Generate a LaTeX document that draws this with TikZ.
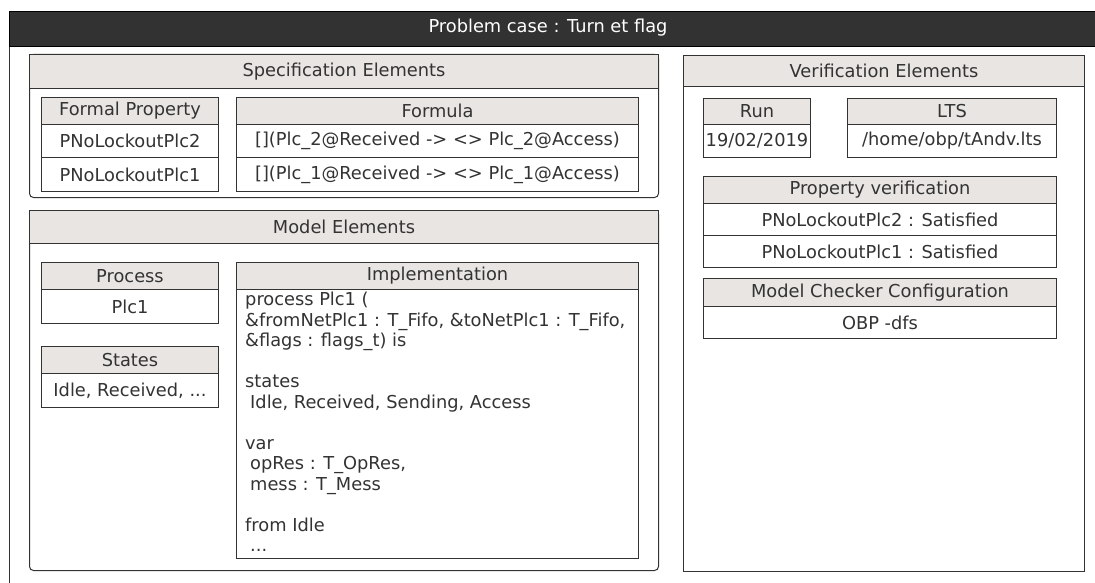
\documentclass[tikz,border=0pt]{standalone}
\usepackage{fontspec}
\setmainfont{DejaVu Sans}
\definecolor{ink}{HTML}{333333}
\definecolor{headfill}{HTML}{E8E5E3}
\definecolor{barfill}{HTML}{323232}
\tikzset{
  cell/.style={draw=ink, line width=1pt, fill=white, text=ink, inner sep=0pt,
    anchor=north west, font=\fontsize{17.8}{20.5}\selectfont},
  headcell/.style={cell, fill=headfill},
  panel/.style={cell, rounded corners=4pt},
}
\begin{document}
\begin{tikzpicture}[x=1pt,y=-1pt]
\useasboundingbox (0,0) rectangle (1095,583);

% outer frame with its dark title bar
\node[cell, fill=white, minimum width=1100, minimum height=600] (frame) at (8.5,11) {};
\node[cell, draw=black, fill=barfill, text=white, minimum width=1100, minimum height=35] (bar) at (8.5,11) {};
\node[text=white, font=\fontsize{17.8}{20}\selectfont] (title) at (548,28) {Problem case : Turn et flag};

% specification elements
\node[panel, minimum width=629, minimum height=143] (spec) at (29,54) {};
\node[headcell, minimum width=629, minimum height=34] (spechead) at (29,54) {Specification Elements};
\node[headcell, minimum width=177, minimum height=27] (fphead) at (41,97) {Formal Property};
\node[cell, minimum width=177, minimum height=33] (fp1) at (41,124) {PNoLockoutPlc2};
\node[cell, minimum width=177, minimum height=34] (fp2) at (41,157) {PNoLockoutPlc1};
\node[headcell, minimum width=402, minimum height=27] (fohead) at (236,97) {Formula};
\node[cell, minimum width=402, minimum height=33] (fo1) at (236,124) {[](Plc\_2@Received -> <> Plc\_2@Access)};
\node[cell, minimum width=402, minimum height=34] (fo2) at (236,157) {[](Plc\_1@Received -> <> Plc\_1@Access)};

% model elements
\node[panel, minimum width=629, minimum height=360] (model) at (29,210) {};
\node[headcell, minimum width=629, minimum height=33] (modelhead) at (29,210) {Model Elements};
\node[headcell, minimum width=177, minimum height=27] (prhead) at (41,262) {Process};
\node[cell, minimum width=177, minimum height=34] (pr1) at (41,289) {Plc1};
\node[headcell, minimum width=177, minimum height=27] (sthead) at (41,346) {States};
\node[cell, minimum width=177, minimum height=34] (st1) at (41,373) {Idle, Received, ...};
\node[headcell, minimum width=402, minimum height=27] (imhead) at (236,262) {Implementation};
\node[cell, minimum width=402, minimum height=269] (imbody) at (236,289) {};
\node[anchor=north west, align=left, inner sep=0pt, text=ink,
      font=\fontsize{17.8}{20.5}\selectfont] (imtext) at (245,292)
{process Plc1 (\\
\&fromNetPlc1 : T\_Fifo, \&toNetPlc1 : T\_Fifo,\\
\&flags : flags\_t) is\\[20.5pt]
states\\
\hspace*{5pt}Idle, Received, Sending, Access\\[20.5pt]
var\\
\hspace*{5pt}opRes : T\_OpRes,\\
\hspace*{5pt}mess : T\_Mess\\[20.5pt]
from Idle\\
\hspace*{5pt}...};

% verification elements
\node[cell, minimum width=401, minimum height=516] (ver) at (683,55) {};
\node[headcell, minimum width=401, minimum height=31] (verhead) at (683,55) {Verification Elements};
\node[headcell, minimum width=107, minimum height=26] (runhead) at (703,98) {Run};
\node[cell, minimum width=107, minimum height=33] (run1) at (703,124) {19/02/2019};
\node[headcell, minimum width=209, minimum height=26] (ltshead) at (847,98) {LTS};
\node[cell, minimum width=209, minimum height=33] (lts1) at (847,124) {/home/obp/tAndv.lts};
\node[headcell, minimum width=353, minimum height=27] (pvhead) at (703,176) {Property verification};
\node[cell, minimum width=353, minimum height=32] (pv1) at (703,203) {PNoLockoutPlc2 : Satisfied};
\node[cell, minimum width=353, minimum height=32] (pv2) at (703,235) {PNoLockoutPlc1 : Satisfied};
\node[headcell, minimum width=353, minimum height=28] (mchead) at (703,278) {Model Checker Configuration};
\node[cell, minimum width=353, minimum height=32] (mc1) at (703,306) {OBP -dfs};
\end{tikzpicture}
\end{document}
